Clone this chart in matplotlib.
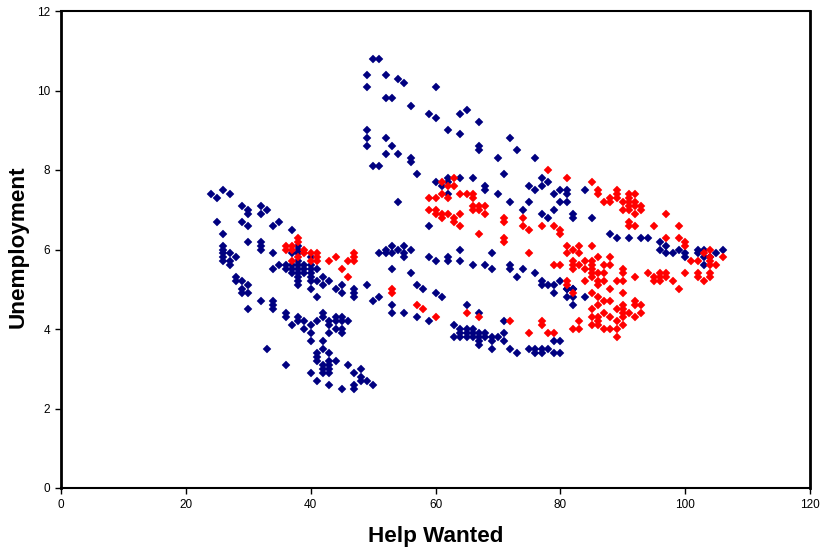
import matplotlib
matplotlib.use("Agg")
import matplotlib.pyplot as plt

blue_points = [
(24,7.4),(25,7.3),(26,7.5),(27,7.4),(29,7.1),(30,7.0),(30,6.9),(32,7.1),(33,7.0),(32,6.9),
(25,6.7),(29,6.7),(30,6.6),(35,6.7),(34,6.6),(37,6.5),(26,6.4),(30,6.2),(32,6.2),(32,6.1),(32,6.0),
(26,6.1),(26,6.0),(26,5.9),(27,5.9),(26,5.8),(26,5.7),(28,5.8),(27,5.7),(27,5.6),
(34,5.9),(38,6.1),(38,6.0),(38,5.9),(37,5.9),
(35,5.6),(34,5.5),(36,5.6),(36,5.5),(37,5.6),(37,5.5),(37,5.4),(38,5.7),(38,5.6),(38,5.5),(38,5.4),(38,5.3),
(39,5.6),(39,5.5),(39,5.4),(40,5.8),(40,5.6),(40,5.5),(40,5.4),(40,5.3),(40,5.2),(41,5.5),(41,5.2),(42,5.3),
(43,5.2),(42,5.1),(40,5.0),(38,5.2),(38,5.1),(45,5.1),(44,5.0),(45,4.9),(49,5.1),(47,5.0),(47,4.9),(47,4.8),(41,4.8),
(28,5.3),(28,5.2),(29,5.2),(30,5.1),(29,5.0),(29,4.9),(30,4.9),(32,4.7),(34,4.7),(34,4.6),(34,4.5),(30,4.5),
(50,4.7),(51,4.8),(53,4.6),(53,4.4),(55,4.4),(57,4.3),(59,4.2),
(36,4.4),(36,4.3),(38,4.3),(38,4.2),(37,4.1),(39,4.2),(39,4.0),(40,4.1),(40,3.9),(41,4.2),(42,4.4),(42,4.3),
(43,4.2),(43,4.1),(43,3.9),(44,4.3),(44,4.2),(44,4.0),(45,4.3),(45,4.2),(45,4.0),(45,3.9),(46,4.2),
(40,3.7),(42,3.7),(33,3.5),(42,3.5),(41,3.4),(41,3.3),(41,3.2),(43,3.4),(43,3.2),(44,3.2),(42,3.1),(43,3.1),
(42,3.0),(43,3.0),(42,2.9),(43,2.9),(36,3.1),(40,2.9),(46,3.1),(47,2.9),(48,3.0),(48,2.8),(48,2.7),(49,2.7),
(50,2.6),(41,2.7),(43,2.6),(45,2.5),(47,2.6),(47,2.5),
(50,10.8),(51,10.8),(49,10.4),(52,10.4),(54,10.3),(55,10.2),(49,10.1),(60,10.1),(52,9.8),(53,9.8),(56,9.6),
(59,9.4),(60,9.3),(64,9.4),(65,9.5),(67,9.2),(62,9.0),(64,8.9),(49,9.0),(49,8.8),(49,8.6),(52,8.8),(53,8.6),
(52,8.4),(54,8.4),(56,8.3),(56,8.2),(50,8.1),(51,8.1),(57,7.9),(67,8.6),(67,8.5),(72,8.8),(73,8.5),(70,8.3),(76,8.3),(71,7.9),
(60,7.7),(62,7.8),(64,7.8),(66,7.8),(61,7.6),(62,7.7),(62,7.4),(68,7.6),(68,7.5),(70,7.4),(72,7.2),(75,7.6),(76,7.5),
(77,7.8),(77,7.6),(78,7.7),(79,7.4),(80,7.5),(81,7.5),(81,7.4),(84,7.5),(80,7.2),(81,7.2),(75,7.2),(74,7.0),(79,7.0),
(77,6.9),(78,6.8),(82,6.9),(82,6.8),(85,6.8),(59,6.6),(54,7.2),
(51,5.9),(52,6.0),(52,5.9),(53,6.1),(53,5.9),(54,6.0),(55,6.1),(55,5.9),(55,5.8),(56,6.0),(53,5.5),(56,5.4),
(59,5.8),(60,5.7),(62,5.8),(62,5.7),(64,6.0),(64,5.7),(66,5.6),(68,5.6),(69,5.9),(69,5.5),(72,5.6),(72,5.5),
(74,5.5),(73,5.3),(76,5.4),(57,5.1),(58,5.0),(60,4.9),(61,4.8),(77,5.2),(77,5.1),(78,5.1),(79,5.1),(80,5.2),(81,5.0),(79,4.9),
(88,6.4),(89,6.3),(91,6.3),(93,6.3),(94,6.3),(96,6.2),(97,6.1),(96,6.0),(97,5.9),(98,5.9),(99,6.0),(100,5.9),(100,5.8),
(102,6.0),(102,5.9),(103,6.0),(103,5.8),(104,5.8),(103,5.6),(105,5.9),(106,6.0),(82,5.0),(84,4.8),(81,4.8),(82,4.8),(82,4.6),
(65,4.6),(67,4.4),(71,4.2),(63,4.1),(64,4.0),(65,4.0),(66,4.0),(63,3.8),(64,3.8),(65,3.8),(66,3.8),(64,3.9),(65,3.9),(66,3.9),
(67,3.9),(68,3.9),(67,3.8),(68,3.8),(67,3.7),(67,3.6),(69,3.8),(69,3.7),(70,3.8),(71,3.9),(71,3.7),(69,3.5),(72,3.5),(73,3.4),
(75,3.5),(76,3.5),(76,3.4),(77,3.5),(77,3.4),(78,3.5),(79,3.7),(80,3.7),(79,3.4),(80,3.4),(82,5.0),(81,5.0),
]

red_points = [
(36,6.1),(36,6.0),(37,6.1),(37,6.0),(38,6.3),(38,6.2),(38,5.8),(37,5.7),(39,6.0),(39,5.9),(40,5.9),(40,5.7),
(41,5.9),(41,5.8),(41,5.7),(43,5.7),(44,5.8),(45,5.5),(46,5.7),(47,5.9),(47,5.8),(47,5.7),(46,5.3),
(53,5.0),(53,4.9),(57,4.6),(58,4.5),(60,4.3),(65,4.4),(67,4.3),(72,4.2),(77,4.2),(77,4.1),(75,3.9),(78,3.9),(79,3.9),
(78,8.0),(81,7.8),(85,7.7),(86,7.5),(86,7.4),(61,7.7),(63,7.8),(61,7.4),(63,7.6),(62,7.6),(59,7.3),(60,7.3),(62,7.3),
(64,7.4),(65,7.4),(66,7.4),(66,7.3),(66,7.1),(66,7.0),(67,7.1),(67,7.0),(68,7.1),(68,6.9),(59,7.0),(60,7.0),(60,6.9),
(61,6.9),(61,6.8),(62,6.9),(64,6.9),(63,6.8),(63,6.7),(64,6.6),(71,6.8),(71,6.7),(74,6.8),(74,6.6),(75,6.5),(77,6.6),
(79,6.6),(80,6.5),(80,6.4),(67,6.4),(71,6.3),(71,6.2),(81,6.1),(83,6.1),(85,6.1),(82,6.0),(81,5.9),(83,5.9),(75,5.9),
(79,5.6),(80,5.6),(82,5.7),(82,5.6),(82,5.5),(83,5.6),(84,5.7),(84,5.5),(85,5.7),(85,5.6),(85,5.5),(85,5.4),(85,5.3),
(86,5.4),(84,5.2),(86,5.2),(86,5.1),(81,5.2),(81,5.1),(82,4.9),(85,4.9),
(89,7.5),(89,7.4),(89,7.3),(88,7.3),(88,7.2),(87,7.2),(90,7.2),(90,7.0),(91,7.4),(91,7.3),(91,7.2),(91,7.1),(91,7.0),
(92,7.4),(92,7.2),(92,7.1),(92,6.9),(93,7.1),(93,7.0),(97,6.9),(91,6.7),(91,6.6),(92,6.6),(95,6.6),(99,6.6),(97,6.3),
(99,6.3),(100,6.2),(100,6.1),(104,6.0),(101,5.7),(102,5.7),(103,5.9),(104,5.8),(104,5.7),(104,5.6),(106,5.8),(105,5.6),
(100,5.4),(102,5.4),(102,5.3),(104,5.4),(104,5.3),(103,5.2),(94,5.4),(95,5.3),(95,5.2),(96,5.4),(96,5.3),(96,5.2),
(97,5.4),(97,5.3),(98,5.2),(99,5.0),(86,5.8),(88,5.8),(87,5.6),(88,5.6),(87,5.4),(87,5.2),(90,5.5),(90,5.4),(92,5.3),
(89,5.2),(90,5.2),(88,5.0),(86,4.8),(90,4.9),(87,4.7),(88,4.7),(86,4.6),(92,4.7),(92,4.6),(93,4.6),(90,4.6),(90,4.5),
(90,4.4),(90,4.3),(89,4.5),(91,4.4),(85,4.5),(87,4.4),(85,4.3),(86,4.3),(86,4.2),(86,4.1),(88,4.3),(89,4.2),(93,4.4),
(92,4.3),(85,4.1),(90,4.1),(87,4.0),(88,4.0),(89,4.0),(89,3.8),(83,4.2),(82,4.0),(83,4.0),
]

x_ticks = [0, 20, 40, 60, 80, 100, 120]
y_ticks = [0, 2, 4, 6, 8, 10, 12]
x_label = "Help Wanted"
y_label = "Unemployment"

plt.rcParams["font.family"] = ["Liberation Sans", "DejaVu Sans"]
W, H = 822, 547
fig = plt.figure(figsize=(W / 100, H / 100), dpi=100, facecolor="white")
ax = fig.add_axes([61 / W, 1 - 488 / H, (810 - 61) / W, (488 - 11) / H])

ax.plot([p[0] for p in blue_points], [p[1] for p in blue_points], ls="none", marker="D",
        ms=4.1, mfc="#000080", mec="#000080", mew=0.3, clip_on=False, zorder=3)
ax.plot([p[0] for p in red_points], [p[1] for p in red_points], ls="none", marker="D",
        ms=4.1, mfc="#FF0000", mec="#FF0000", mew=0.3, clip_on=False, zorder=4)

ax.set_xlim(0, 120)
ax.set_ylim(0, 12)
ax.set_xticks(x_ticks)
ax.set_yticks(y_ticks)
ax.tick_params(axis="both", direction="out", length=4, width=1.0, labelsize=8.5, pad=4, color="black")
for name, s in ax.spines.items():
    s.set_linewidth(2.0 if name in ("left", "right") else 1.5)
    s.set_color("black")

ax.set_xlabel(x_label, fontsize=16.2, fontweight="bold", labelpad=11)
ax.set_ylabel(y_label, fontsize=16.2, fontweight="bold", labelpad=6, y=0.505)

fig.savefig("out.png", dpi=100)
